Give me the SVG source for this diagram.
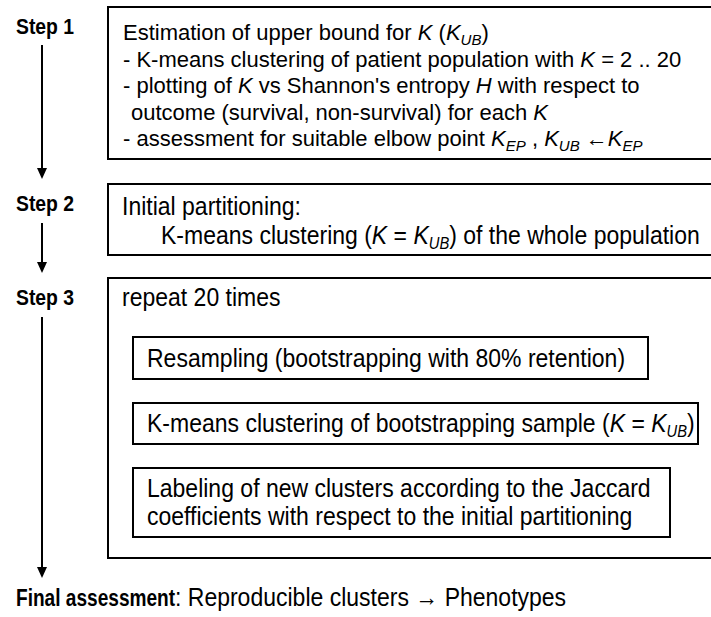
<svg xmlns="http://www.w3.org/2000/svg" width="711" height="617" viewBox="0 0 711 617">
<style>
text{font-family:"Liberation Sans",Arial,sans-serif;fill:#000}
.lbl{font-weight:bold;font-size:22px}
.t{font-size:22px}
.t2{font-size:25px}
.i{font-style:italic}
.sub{font-style:italic;font-size:15px}
.sub2{font-style:italic;font-size:16px}
.box{fill:#fff;stroke:#000;stroke-width:2}
.conn{stroke:#000;stroke-width:2;fill:none}
.head{fill:#000}
</style>
<rect width="711" height="617" fill="#fff"/>
<g id="connectors">
<line class="conn" x1="42" y1="45" x2="42" y2="170"/>
<path class="head" d="M37,168 L47,168 L42,179 Z"/>
<line class="conn" x1="42" y1="223" x2="42" y2="264"/>
<path class="head" d="M37,262 L47,262 L42,273 Z"/>
<line class="conn" x1="42" y1="317" x2="42" y2="569"/>
<path class="head" d="M37,567 L47,567 L42,578 Z"/>
</g>
<g id="step1">
<text class="lbl" transform="translate(16,34) scale(0.88,1)">Step 1</text>
<rect class="box" x="108" y="7" width="620" height="152"/>
<text class="t" x="123" y="40">Estimation of upper bound for <tspan class="i">K</tspan> (<tspan class="i">K</tspan><tspan class="sub" dy="5">UB</tspan><tspan dy="-5">)</tspan></text>
<text class="t" x="123" y="66.5">- K-means clustering of patient population with <tspan class="i">K</tspan> = 2 .. 20</text>
<text class="t" x="123" y="93">- plotting of <tspan class="i">K</tspan> vs Shannon's entropy <tspan class="i">H</tspan> with respect to</text>
<text class="t" x="131" y="119.5">outcome (survival, non-survival)  for each <tspan class="i">K</tspan></text>
<text class="t" x="123" y="146">- assessment for suitable elbow point <tspan class="i">K</tspan><tspan class="sub" dy="5">EP</tspan><tspan dy="-5"> , </tspan><tspan class="i">K</tspan><tspan class="sub" dy="5">UB</tspan><tspan dy="-5"> ←</tspan><tspan class="i">K</tspan><tspan class="sub" dy="5">EP</tspan></text>
</g>
<g id="step2">
<text class="lbl" transform="translate(16,211) scale(0.88,1)">Step 2</text>
<rect class="box" x="108" y="184" width="620" height="71"/>
<text class="t2" transform="translate(122,215) scale(0.92,1)">Initial partitioning:</text>
<text class="t2" transform="translate(161,244) scale(0.92,1)">K-means clustering (<tspan class="i">K</tspan> = <tspan class="i">K</tspan><tspan class="sub2" dy="5">UB</tspan><tspan dy="-5">) of the whole population</tspan></text>
</g>
<g id="step3">
<text class="lbl" transform="translate(16,305) scale(0.88,1)">Step 3</text>
<rect class="box" x="108" y="278" width="620" height="280"/>
<text class="t2" transform="translate(122,306) scale(0.92,1)">repeat 20 times</text>
</g>
<g id="resampling">
<rect class="box" x="133" y="337" width="515" height="42"/>
<text class="t2" transform="translate(147,367) scale(0.92,1)">Resampling (bootstrapping with 80% retention)</text>
</g>
<g id="kmeans">
<rect class="box" x="133" y="403" width="565" height="41"/>
<text class="t2" transform="translate(147,432) scale(0.92,1)">K-means clustering of bootstrapping sample (<tspan class="i">K</tspan> = <tspan class="i">K</tspan><tspan class="sub2" dy="5">UB</tspan><tspan dy="-5">)</tspan></text>
</g>
<g id="labeling">
<rect class="box" x="133" y="468" width="537" height="69"/>
<text class="t2" transform="translate(147,497) scale(0.92,1)">Labeling of new clusters according to the Jaccard</text>
<text class="t2" transform="translate(147,525) scale(0.92,1)">coefficients with respect to the initial partitioning</text>
</g>
<g id="final">
<text class="lbl" transform="translate(16,606) scale(0.83,1)" style="font-size:23px">Final assessment</text>
<text class="t2" transform="translate(175,606) scale(0.92,1)">: Reproducible clusters → Phenotypes</text>
</g>
</svg>
